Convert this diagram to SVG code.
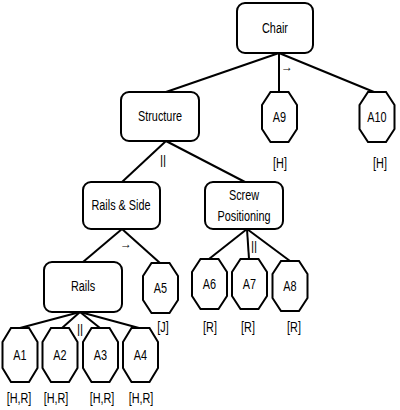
<svg xmlns="http://www.w3.org/2000/svg" width="400" height="410" viewBox="0 0 400 410">
<defs>
<style>
.box{fill:#fff;stroke:#000;stroke-width:2}
.oct{fill:#fff;stroke:#000;stroke-width:2}
.lnk{stroke:#000;stroke-width:2;fill:none}
text{font-family:"Liberation Sans",Arial,sans-serif;font-size:14.5px;fill:#000;text-anchor:middle;dominant-baseline:central}
.sm{font-size:12px}
</style>
<polygon id="octa" points="-9,-25 9,-25 17.5,-12 17.5,12 9,25 -9,25 -17.5,12 -17.5,-12" class="oct"/>
<polygon id="octb" points="-9,-27 9,-27 17.5,-13 17.5,13 9,27 -9,27 -17.5,13 -17.5,-13" class="oct"/>
</defs>
<rect width="400" height="410" fill="#fff"/>
<g id="connectors">
<line class="lnk" x1="279" y1="53" x2="166" y2="92"/>
<line class="lnk" x1="279" y1="53" x2="279" y2="92"/>
<line class="lnk" x1="279" y1="53" x2="374" y2="92"/>
<line class="lnk" x1="166" y1="141" x2="122" y2="182"/>
<line class="lnk" x1="166" y1="141" x2="245" y2="182"/>
<line class="lnk" x1="122" y1="229" x2="83" y2="262"/>
<line class="lnk" x1="122" y1="229" x2="160" y2="263"/>
<line class="lnk" x1="80" y1="312" x2="20" y2="328"/>
<line class="lnk" x1="80" y1="312" x2="62" y2="328"/>
<line class="lnk" x1="80" y1="312" x2="100" y2="328"/>
<line class="lnk" x1="80" y1="312" x2="139" y2="328"/>
<line class="lnk" x1="247" y1="229" x2="209" y2="259"/>
<line class="lnk" x1="247" y1="229" x2="249" y2="259"/>
<line class="lnk" x1="247" y1="229" x2="290" y2="261"/>
<text x="287" y="67" class="sm">→</text>
<text x="163" y="160" class="sm">||</text>
<text x="126" y="244" class="sm">→</text>
<text x="80" y="329" class="sm">||</text>
<text x="254" y="246" class="sm">||</text>
</g>
<g id="chair"><rect class="box" x="237" y="3" width="76" height="50" rx="8"/><text transform="translate(275,28) scale(0.75,1)">Chair</text></g>
<g id="structure"><rect class="box" x="121" y="92" width="78" height="49" rx="8"/><text transform="translate(160,116) scale(0.75,1)">Structure</text></g>
<g id="rails-side"><rect class="box" x="83" y="182" width="77" height="47" rx="8"/><text transform="translate(121,205) scale(0.75,1)">Rails &amp; Side</text></g>
<g id="screw"><rect class="box" x="205" y="182" width="78" height="47" rx="8"/><text transform="translate(244,195) scale(0.75,1)">Screw</text><text transform="translate(244,216) scale(0.75,1)">Positioning</text></g>
<g id="rails"><rect class="box" x="44" y="262" width="78" height="50" rx="8"/><text transform="translate(83,286) scale(0.75,1)">Rails</text></g>
<g id="a9"><use href="#octa" x="279.5" y="117"/><text transform="translate(279.5,117) scale(0.75,1)">A9</text><text transform="translate(280,163) scale(0.75,1)">[H]</text></g>
<g id="a10"><use href="#octa" x="377" y="117"/><text transform="translate(377,117) scale(0.75,1)">A10</text><text transform="translate(380,163) scale(0.75,1)">[H]</text></g>
<g id="a5"><use href="#octa" x="160.5" y="288"/><text transform="translate(160.5,288) scale(0.75,1)">A5</text><text transform="translate(163,327) scale(0.75,1)">[J]</text></g>
<g id="a6"><use href="#octa" x="209.5" y="284"/><text transform="translate(209.5,284) scale(0.75,1)">A6</text><text transform="translate(210,327) scale(0.75,1)">[R]</text></g>
<g id="a7"><use href="#octa" x="249.5" y="284"/><text transform="translate(249.5,284) scale(0.75,1)">A7</text><text transform="translate(248,327) scale(0.75,1)">[R]</text></g>
<g id="a8"><use href="#octa" x="290" y="286"/><text transform="translate(290,286) scale(0.75,1)">A8</text><text transform="translate(294,327) scale(0.75,1)">[R]</text></g>
<g id="a1"><use href="#octb" x="20" y="355"/><text transform="translate(20,355) scale(0.75,1)">A1</text><text transform="translate(19,398) scale(0.75,1)">[H,R]</text></g>
<g id="a2"><use href="#octb" x="60" y="355"/><text transform="translate(60,355) scale(0.75,1)">A2</text><text transform="translate(56,398) scale(0.75,1)">[H,R]</text></g>
<g id="a3"><use href="#octb" x="100.5" y="355"/><text transform="translate(100.5,355) scale(0.75,1)">A3</text><text transform="translate(102,398) scale(0.75,1)">[H,R]</text></g>
<g id="a4"><use href="#octb" x="140.5" y="355"/><text transform="translate(140.5,355) scale(0.75,1)">A4</text><text transform="translate(141,398) scale(0.75,1)">[H,R]</text></g>
</svg>
